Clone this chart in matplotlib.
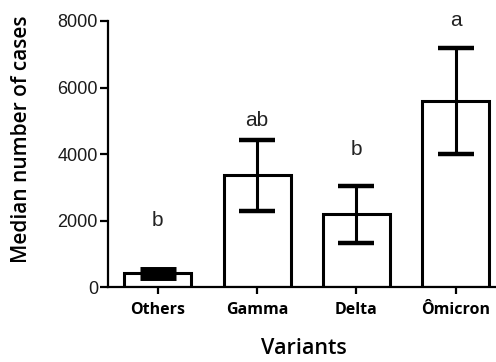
import matplotlib
matplotlib.use("Agg")
import matplotlib.pyplot as plt
import numpy as np

categories = ["Others", "Gamma", "Delta", "Ômicron"]
medians = [410, 3360, 2190, 5600]
err_low = [310, 2290, 1330, 4000]
err_high = [510, 4420, 3050, 7180]
letters = ["b", "ab", "b", "a"]
letter_y = [2000, 5000, 4150, 8000]
yticks = [0, 2000, 4000, 6000, 8000]

fig = plt.figure(figsize=(4.96, 3.62), dpi=100)
ax = fig.add_axes([0.217, 0.207, 0.79, 0.735])

x = np.arange(len(categories))
ax.bar(x, medians, width=0.675, color="white", edgecolor="black", linewidth=2.2, zorder=2)
med = np.array(medians)
yerr = np.array([med - np.array(err_low), np.array(err_high) - med])
# first group: caps so close they merge into a solid block
ax.errorbar(x[:1], med[:1], yerr=yerr[:, :1], fmt="none", ecolor="black", elinewidth=6,
            capsize=13, capthick=5, zorder=3)
ax.errorbar(x[1:], med[1:], yerr=yerr[:, 1:], fmt="none", ecolor="black", elinewidth=2.2,
            capsize=13, capthick=3.2, zorder=3)

for xi, t, ly in zip(x, letters, letter_y):
    ax.text(xi, ly, t, ha="center", va="center", fontsize=15,
            family="Liberation Sans", color="#222222")

ax.set_xlim(-0.505, 3.44)
ax.set_ylim(0, 8000)
ax.set_yticks(yticks)
ax.set_yticklabels([str(v) for v in yticks], family="Liberation Sans", fontsize=13,
                   color="#1a1a1a")
ax.set_xticks(x)
ax.set_xticklabels(categories, family="Open Sans", fontsize=11.5, fontweight="bold")

for s in ["top", "right"]:
    ax.spines[s].set_visible(False)
for s in ["left", "bottom"]:
    ax.spines[s].set_linewidth(1.6)
ax.tick_params(axis="y", length=6, width=1.6, pad=1)
ax.tick_params(axis="x", length=5, width=1.6, pad=6)

ax.set_ylabel("Median number of cases", family="Open Sans", fontsize=15,
              fontweight="semibold")
ax.yaxis.set_label_coords(-0.193, 0.556)
ax.set_xlabel("Variants", family="Open Sans", fontsize=15.5,
              fontweight="semibold", labelpad=14)

fig.savefig("out.png", dpi=100)
